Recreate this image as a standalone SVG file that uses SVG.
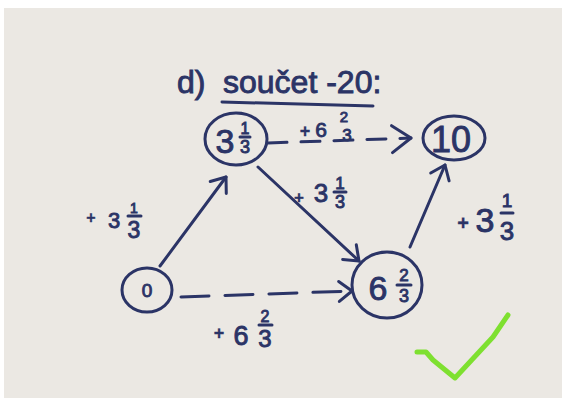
<svg xmlns="http://www.w3.org/2000/svg" width="567" height="408" viewBox="0 0 567 408">
<style>
.ink{fill:none;stroke:#2b3466;stroke-width:3;stroke-linecap:round;stroke-linejoin:round}
.t{font-family:"Liberation Sans",Arial,sans-serif;fill:#2b3466;stroke:#2b3466;stroke-width:0.9;text-anchor:middle}
.s{text-anchor:start}
.b{font-weight:bold;stroke-width:0.3}
.d1{stroke-dasharray:28 16}
.d2{stroke-dasharray:19 14}
</style>
<defs>
<marker id="ah" markerUnits="userSpaceOnUse" viewBox="-20 -15 25 30" markerWidth="25" markerHeight="30" refX="0" refY="0" orient="auto">
<path d="M-13,-10 L0,0 L-13,10" fill="none" stroke="#2b3466" stroke-width="3" stroke-linecap="round" stroke-linejoin="round"/>
</marker>
<marker id="ah2" markerUnits="userSpaceOnUse" viewBox="-25 -18 30 36" markerWidth="30" markerHeight="36" refX="0" refY="0" orient="auto">
<path d="M-19,-13 L0,0 L-19,14" fill="none" stroke="#2b3466" stroke-width="3" stroke-linecap="round" stroke-linejoin="round"/>
</marker>
</defs>
<rect width="567" height="408" fill="#ffffff"/>
<rect x="4" y="8" width="558" height="390" fill="#ebe8e3"/>

<g id="title">
<text class="t s" x="177" y="93" font-size="32">d)</text>
<text class="t s" x="223" y="93" font-size="32">součet -20:</text>
<path class="ink" d="M222,102 L373,106"/>
</g>

<g id="connectors">
<path class="ink" d="M160,266 L226,177" marker-end="url(#ah)"/>
<path class="ink" d="M258,167 L359,261" marker-end="url(#ah)"/>
<path class="ink" d="M410,247 L445,165" marker-end="url(#ah)"/>
<path class="ink d1" d="M181,297 L352,291" marker-end="url(#ah)"/>
<path class="ink d2" d="M268,143 L411,138" marker-end="url(#ah2)"/>
</g>

<g id="labels">
<g id="lbl-0-3">
<text class="t b" x="91" y="223" font-size="16">+</text>
<text class="t" x="114" y="228" font-size="22">3</text>
<text class="t" x="134" y="213" font-size="14">1</text>
<line class="ink" x1="128" y1="216" x2="141" y2="216" stroke-width="2"/>
<text class="t" x="134" y="238" font-size="23">3</text>
</g>
<g id="lbl-3-6">
<text class="t b" x="299" y="203" font-size="17">+</text>
<text class="t" x="321" y="202" font-size="26">3</text>
<text class="t" x="340" y="189" font-size="17">1</text>
<line class="ink" x1="334" y1="192" x2="346" y2="192" stroke-width="2"/>
<text class="t" x="340" y="208" font-size="18">3</text>
</g>
<g id="lbl-6-10">
<text class="t b" x="463" y="230" font-size="20">+</text>
<text class="t" x="485" y="232" font-size="34">3</text>
<text class="t" x="507" y="207" font-size="19">1</text>
<line class="ink" x1="501" y1="213" x2="513" y2="213" stroke-width="2"/>
<text class="t" x="507" y="240" font-size="26">3</text>
</g>
<g id="lbl-0-6">
<text class="t b" x="219" y="339" font-size="18">+</text>
<text class="t" x="241" y="345" font-size="27">6</text>
<text class="t" x="265" y="322" font-size="16">2</text>
<line class="ink" x1="259" y1="325" x2="272" y2="325" stroke-width="2"/>
<text class="t" x="265" y="347" font-size="24">3</text>
</g>
<g id="lbl-3-10">
<text class="t b" x="305" y="137" font-size="18">+</text>
<text class="t" x="321" y="137" font-size="21">6</text>
<text class="t" x="344" y="122" font-size="15">2</text>
<text class="t" x="347" y="141" font-size="17">3</text>
</g>
</g>

<g id="node-0">
<ellipse class="ink" cx="147" cy="290" rx="25" ry="22"/>
<text class="t" x="147" y="297" font-size="19">0</text>
</g>
<g id="node-3-1-3">
<ellipse class="ink" cx="236" cy="139" rx="31" ry="26"/>
<text class="t" x="225" y="153" font-size="34">3</text>
<text class="t" x="245" y="134" font-size="16">1</text>
<line class="ink" x1="240" y1="137" x2="250" y2="137" stroke-width="2"/>
<text class="t" x="245" y="153" font-size="18">3</text>
</g>
<g id="node-10">
<ellipse class="ink" cx="454" cy="138" rx="31" ry="22"/>
<text class="t" x="451" y="152" font-size="36">10</text>
</g>
<g id="node-6-2-3">
<ellipse class="ink" cx="387" cy="285" rx="35" ry="33"/>
<text class="t" x="378" y="300" font-size="34">6</text>
<text class="t" x="404" y="281" font-size="17">2</text>
<line class="ink" x1="397" y1="285" x2="411" y2="285" stroke-width="2"/>
<text class="t" x="404" y="302" font-size="18">3</text>
</g>

<polyline points="417,352 426,352 433,360 455,378 493,337 508,315" fill="none" stroke="#7ee030" stroke-width="5" stroke-linecap="round" stroke-linejoin="round"/>
</svg>
